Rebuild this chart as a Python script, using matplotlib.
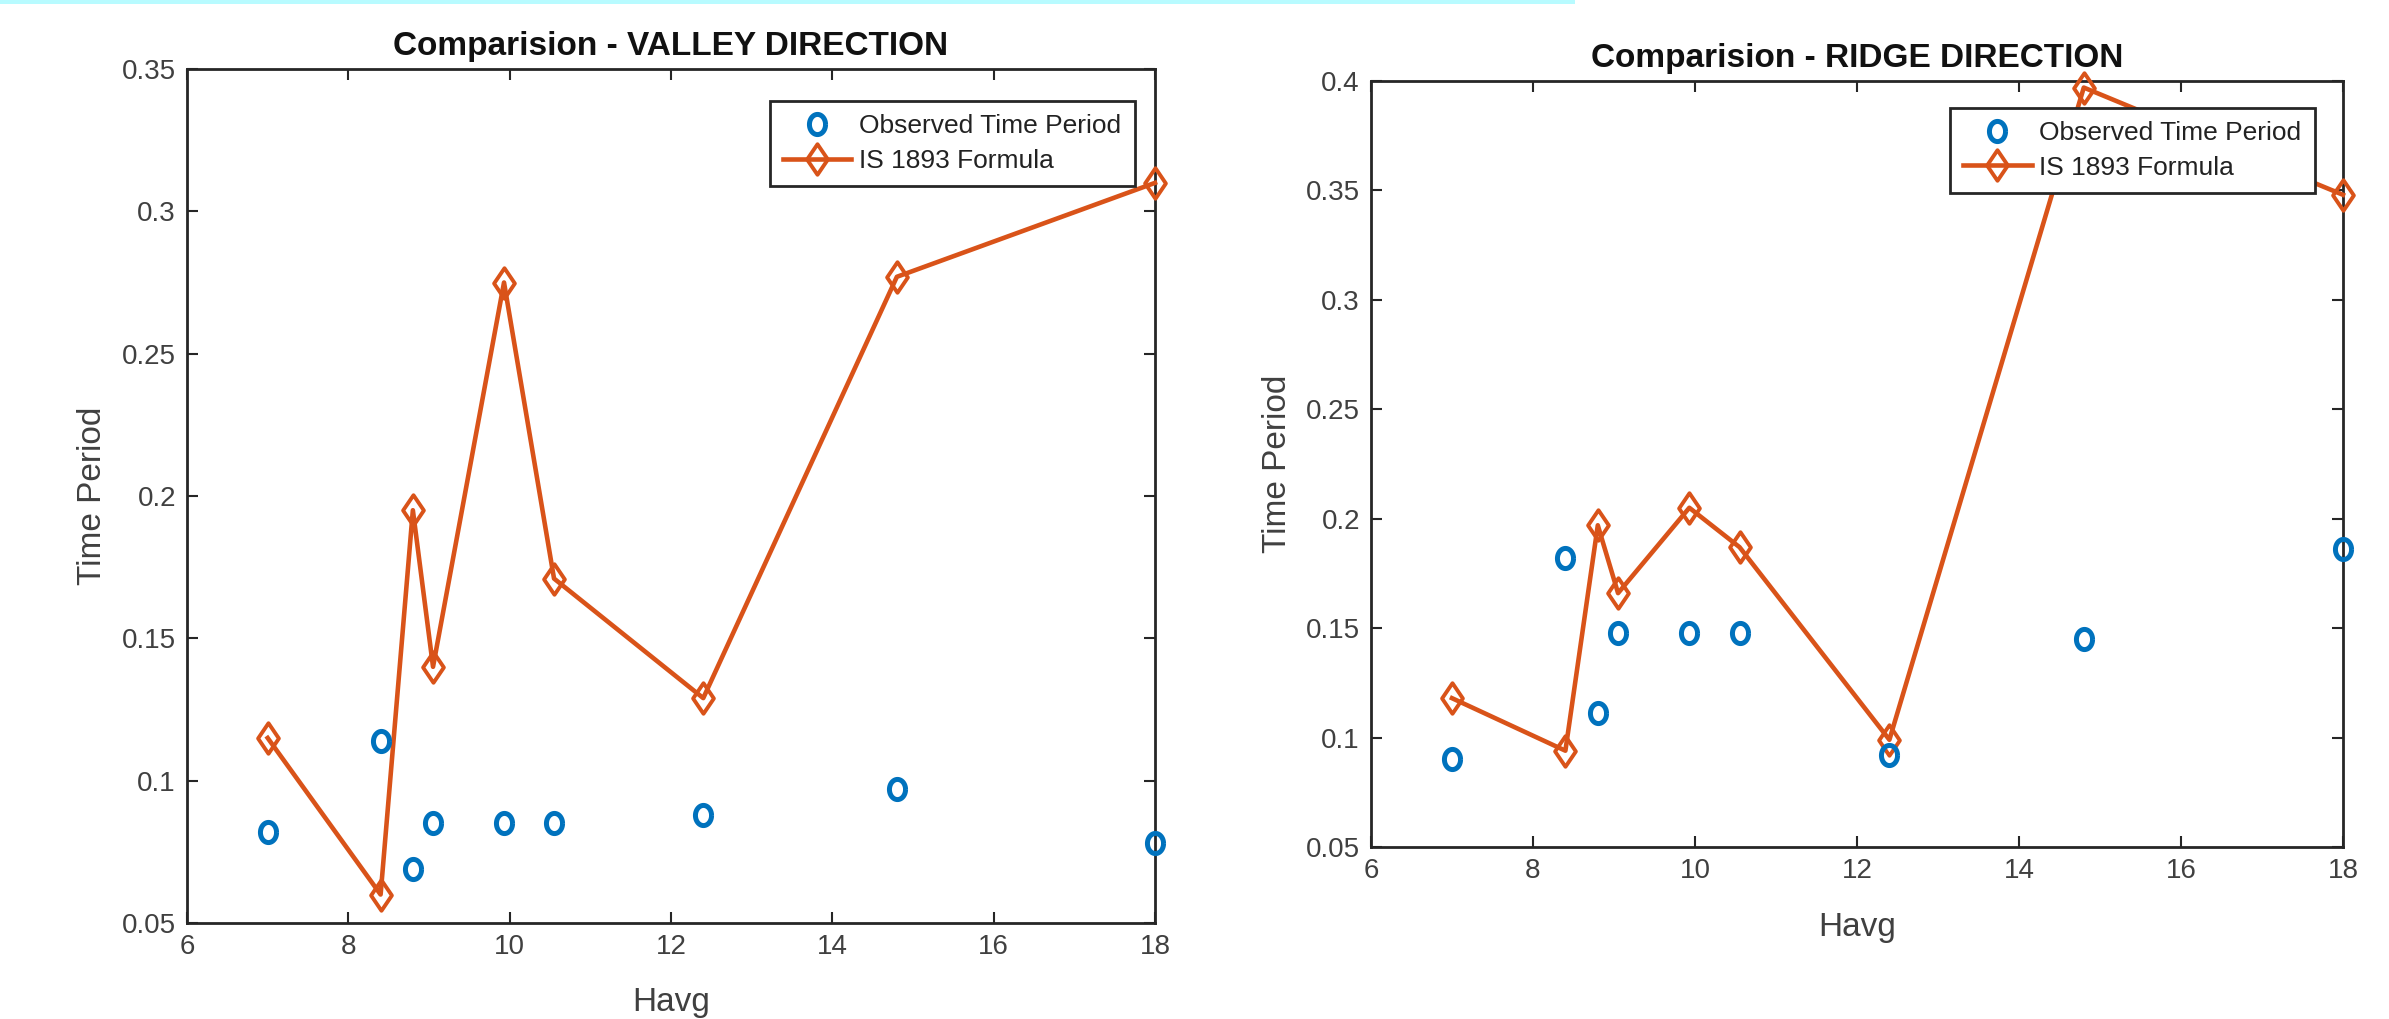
import matplotlib
matplotlib.use("Agg")
import numpy as np
import matplotlib.pyplot as plt
from matplotlib.patches import Rectangle
from matplotlib.path import Path

# ---- data ----
havg = [7.0, 8.4, 8.8, 9.05, 9.93, 10.55, 12.4, 14.8, 18.0]

valley_observed = [0.082, 0.114, 0.069, 0.085, 0.085, 0.085, 0.088, 0.097, 0.078]
valley_formula = [0.115, 0.060, 0.195, 0.140, 0.275, 0.171, 0.129, 0.277, 0.310]

ridge_observed = [0.090, 0.182, 0.111, 0.148, 0.148, 0.148, 0.092, 0.145, 0.186]
ridge_formula = [0.118, 0.094, 0.197, 0.166, 0.205, 0.187, 0.099, 0.397, 0.348]

x_ticks = [6, 8, 10, 12, 14, 16, 18]
valley_yticks = [0.05, 0.1, 0.15, 0.2, 0.25, 0.3, 0.35]
ridge_yticks = [0.05, 0.1, 0.15, 0.2, 0.25, 0.3, 0.35, 0.4]
titles = ["Comparision - VALLEY DIRECTION", "Comparision - RIDGE DIRECTION"]
legend_labels = ["Observed Time Period", "IS 1893 Formula"]

BLUE = "#0072BD"
ORANGE = "#D95319"
AXC = "#262626"
TXT = "#404040"

plt.rcParams['font.family'] = ['Liberation Sans', 'DejaVu Sans']

# marker shapes (slightly tall, as in the original picture)
diamond = Path([(0, 1), (0.68, 0), (0, -1), (-0.68, 0), (0, 1)],
               [Path.MOVETO, Path.LINETO, Path.LINETO, Path.LINETO, Path.CLOSEPOLY])
th = np.linspace(0, 2 * np.pi, 61)
ellipse = Path(np.column_stack([0.8 * np.cos(th), np.sin(th)]))

W, H = 2389, 1019
fig = plt.figure(figsize=(W / 100, H / 100), dpi=100)
fig.patch.set_facecolor("white")

fig.add_artist(Rectangle((0, 1 - 4 / H), 1575 / W, 4 / H, transform=fig.transFigure,
                         facecolor="#b8fbff", edgecolor="none"))

def px_axes(l, t, r, b):
    return fig.add_axes([l / W, 1 - b / H, (r - l) / W, (b - t) / H])

ax1 = px_axes(187, 69, 1155, 923)
ax2 = px_axes(1371, 81, 2343, 847)

configs = [
    (ax1, valley_observed, valley_formula, valley_yticks, (0.05, 0.35), titles[0],
     (0.979, 0.9625), 19, 10),
    (ax2, ridge_observed, ridge_formula, ridge_yticks, (0.05, 0.40), titles[1],
     (0.971, 0.965), 20, 9),
]

for ax, obs, form, yt, ylim, title, lpos, xpad, ypad in configs:
    ax.plot(havg, form, color=ORANGE, lw=3.3, marker=diamond, markersize=22,
            markerfacecolor='none', markeredgecolor=ORANGE, markeredgewidth=2.8,
            label=legend_labels[1], clip_on=False, zorder=3)
    ax.plot(havg, obs, linestyle='none', marker=ellipse, markersize=14.5,
            markerfacecolor='none', markeredgecolor=BLUE, markeredgewidth=3.6,
            label=legend_labels[0], clip_on=False, zorder=4)
    ax.set_xlim(6, 18)
    ax.set_ylim(*ylim)
    ax.set_xticks(x_ticks)
    ax.set_xticklabels([str(v) for v in x_ticks])
    ax.set_yticks(yt)
    ax.set_yticklabels([f"{v:g}" for v in yt])
    ax.tick_params(direction='in', top=True, right=True, length=8, width=1.5,
                   color=AXC, labelsize=20, labelcolor=TXT, pad=8)
    for s in ax.spines.values():
        s.set_color(AXC)
        s.set_linewidth(2.0)
    ax.set_title(title, fontsize=24, fontweight='bold', color='#111111', pad=10)
    ax.set_xlabel("Havg", fontsize=24, color=TXT, labelpad=xpad)
    ax.set_ylabel("Time Period", fontsize=24, color=TXT, labelpad=ypad)
    h, l = ax.get_legend_handles_labels()
    leg = ax.legend([h[1], h[0]], [l[1], l[0]], loc='upper right', bbox_to_anchor=lpos,
                    fontsize=19, frameon=True, fancybox=False, framealpha=1,
                    edgecolor=AXC, handlelength=2.6, handletextpad=0.3,
                    borderpad=0.5, labelspacing=0.4, borderaxespad=0)
    leg.get_frame().set_linewidth(2.0)
    for t in leg.get_texts():
        t.set_color('#222222')

fig.savefig("out.png", dpi=100, facecolor="white")
